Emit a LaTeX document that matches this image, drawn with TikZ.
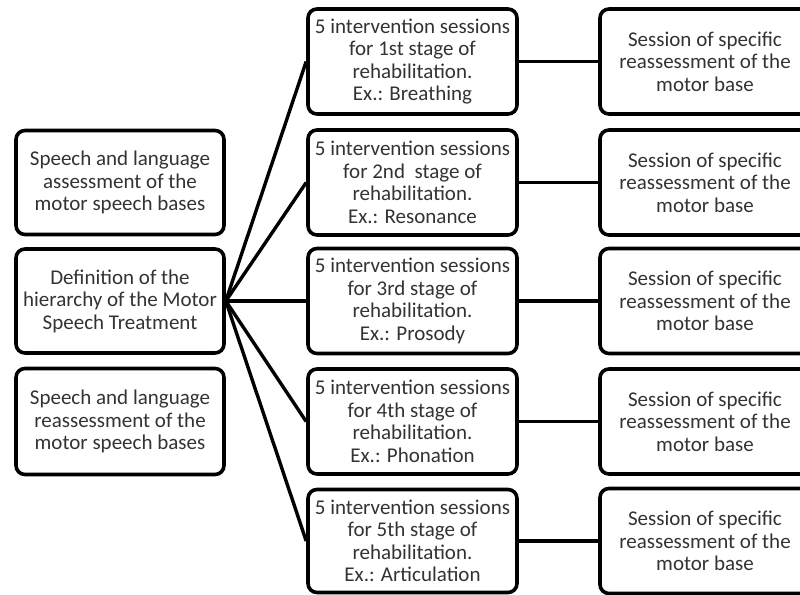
\documentclass[tikz,border=0pt]{standalone}
\usepackage{fontspec}
\setmainfont{Carlito}
\definecolor{txt}{HTML}{333333}
\begin{document}
\begin{tikzpicture}[x=1pt,y=-1pt,
  box/.style={draw=black,line width=3.6pt,rounded corners=9pt,fill=white,
    align=center,text=txt,font=\fontsize{21}{22.5}\selectfont,inner sep=0pt},
  lbox/.style={box,minimum width=208pt,minimum height=104pt},
  mbox/.style={box,minimum width=209pt,minimum height=105pt},
  rbox/.style={box,minimum width=210pt,minimum height=105pt},
  conn/.style={line width=3.4pt,draw=black}]
\useasboundingbox (0,0) rectangle (800,594);
\clip (0,0) rectangle (800,594);
\fill[white] (0,0) rectangle (800,594);
% left column
\node[lbox] (a1) at (120,182.5) {Speech and language\\assessment of the\\motor speech bases};
\node[lbox] (def) at (120,301) {Definition of the\\hierarchy of the Motor\\Speech Treatment};
\node[lbox,minimum height=106pt] (a2) at (120,421.5) {Speech and language\\reassessment of the\\motor speech bases};
% middle column
\node[mbox] (m1) at (412.5,61.5) {5 intervention sessions\\for 1st stage of\\rehabilitation.\\Ex.: Breathing};
\node[mbox] (m2) at (412.5,182.5) {5 intervention sessions\\for 2nd\ \ stage of\\rehabilitation.\\Ex.: Resonance};
\node[mbox] (m3) at (412.5,301) {5 intervention sessions\\for 3rd stage of\\rehabilitation.\\Ex.: Prosody};
\node[mbox] (m4) at (412.5,421.5) {5 intervention sessions\\for 4th stage of\\rehabilitation.\\Ex.: Phonation};
\node[mbox,minimum height=103pt] (m5) at (412.5,541) {5 intervention sessions\\for 5th stage of\\rehabilitation.\\Ex.: Articulation};
% right column
\foreach \i/\y in {1/61.5,2/182.5,3/301,4/421.5,5/541}{
  \node[rbox] (r\i) at (705,\y) {Session of specific\\reassessment of the\\motor base};
}
% connectors
\foreach \i in {1,...,5}{
  \draw[conn] (def.east) -- (m\i.west);
  \draw[conn] (m\i.east) -- (r\i.west);
}
\end{tikzpicture}
\end{document}
